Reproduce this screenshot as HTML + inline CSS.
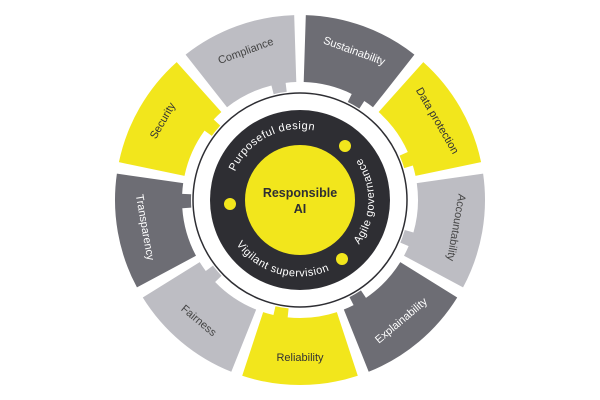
<!DOCTYPE html>
<html><head><meta charset="utf-8"><style>
html,body{margin:0;padding:0;background:#fff;width:600px;height:400px;overflow:hidden}
svg{display:block}
text{font-family:"Liberation Sans",sans-serif}
</style></head><body>
<svg width="600" height="400" viewBox="0 0 600 400">
<defs>
<path id="p1" d="M 234.2 173.4 A 71 71 0 0 1 324.3 133.3"/>
<path id="p2" d="M 338 263 A 73 73 0 0 0 338 137"/>
<path id="p3" d="M 234 241 A 77 77 0 0 0 330 270"/>
</defs>
<g id="segs"></g>
<circle cx="300" cy="200" r="107" fill="none" stroke="#2e2e33" stroke-width="1.5"/>
<circle cx="300" cy="200" r="90" fill="#2e2e33"/>
<circle cx="300" cy="200" r="55" fill="#f2e61c"/>
<circle cx="345" cy="146" r="6" fill="#f2e61c"/>
<circle cx="230" cy="204" r="6" fill="#f2e61c"/>
<circle cx="342" cy="259" r="6" fill="#f2e61c"/>
<text font-size="11" fill="#fff" letter-spacing="0.5"><textPath href="#p1" startOffset="2">Purposeful design</textPath></text>
<text font-size="11" fill="#fff" letter-spacing="0.5"><textPath href="#p2" startOffset="28">Agile governance</textPath></text>
<text font-size="11" fill="#fff" letter-spacing="0.5"><textPath href="#p3" startOffset="4">Vigilant supervision</textPath></text>
<text x="300" y="197" text-anchor="middle" font-size="12.5" font-weight="bold" fill="#2e2e33">Responsible</text>
<text x="300" y="213" text-anchor="middle" font-size="12.5" font-weight="bold" fill="#2e2e33">AI</text>
<g id="labels"></g>
</svg>
<script>
var cx=300,cy=200,R=185,r=118,rt=109;
function pt(rad,deg){var a=deg*Math.PI/180;return [cx+rad*Math.sin(a),cy-rad*Math.cos(a)];}
var segs=[["Sustainability","#6d6d74","#fff"],["Data protection","#f2e61c","#333"],["Accountability","#bdbdc3","#444"],["Explainability","#6d6d74","#fff"],["Reliability","#f2e61c","#333"],["Fairness","#bdbdc3","#444"],["Transparency","#6d6d74","#fff"],["Security","#f2e61c","#333"],["Compliance","#bdbdc3","#444"]];
var g=document.getElementById("segs"),L=document.getElementById("labels"),ns="http://www.w3.org/2000/svg";
segs.forEach(function(s,i){
 var a1=i*40+1.8,a2=(i+1)*40-1.8,m=i*40+20;
 var t1=m+6,t2=m+13;
 var p=[pt(R,a1),pt(R,a2),pt(r,a2),pt(r,t2),pt(rt,t2),pt(rt,t1),pt(r,t1),pt(r,a1)];
 var d="M"+p[0]+" A"+R+" "+R+" 0 0 1 "+p[1]+" L"+p[2]+" A"+r+" "+r+" 0 0 0 "+p[3]+" L"+p[4]+" A"+rt+" "+rt+" 0 0 0 "+p[5]+" L"+p[6]+" A"+r+" "+r+" 0 0 0 "+p[7]+" Z";
 var e=document.createElementNS(ns,"path");e.setAttribute("d",d);e.setAttribute("fill",s[1]);g.appendChild(e);
 var q=pt(158,m),rot=(m<=110?m:(m<=270?m-180:m-360));
 var t=document.createElementNS(ns,"text");t.setAttribute("x",q[0]);t.setAttribute("y",q[1]);
 t.setAttribute("text-anchor","middle");t.setAttribute("dominant-baseline","middle");t.setAttribute("font-size","11");
 t.setAttribute("fill",s[2]);t.setAttribute("transform","rotate("+rot+" "+q[0]+" "+q[1]+")");t.textContent=s[0];L.appendChild(t);
});
</script>
</body></html>
